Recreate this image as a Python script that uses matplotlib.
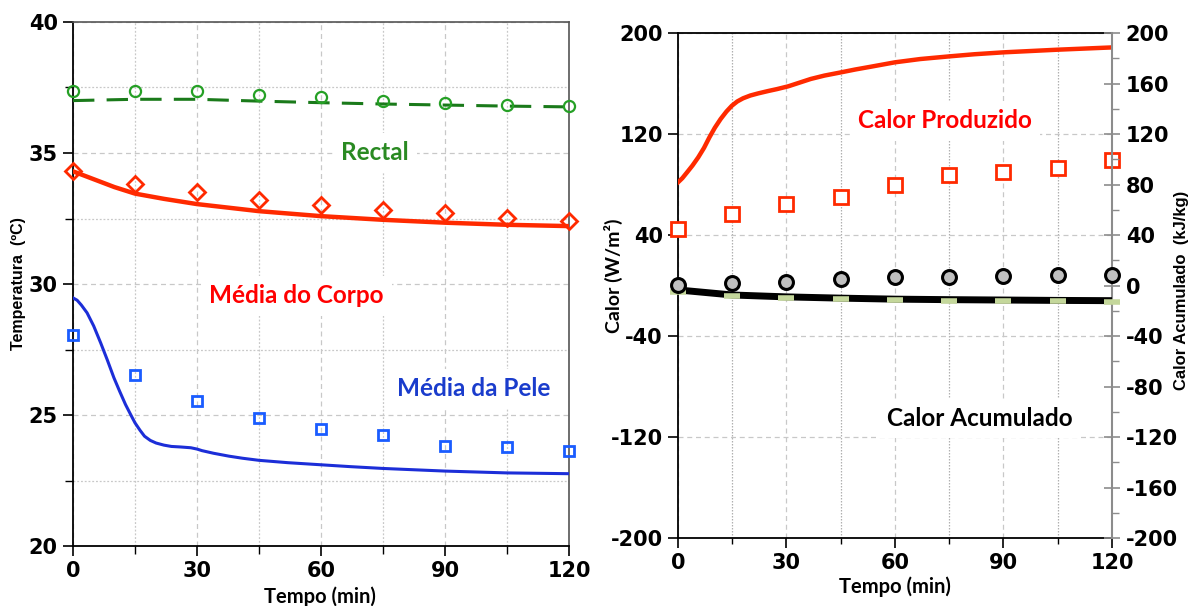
import matplotlib
matplotlib.use("Agg")
import matplotlib.pyplot as plt
from matplotlib.ticker import MultipleLocator

plt.rcParams["font.family"] = ["Liberation Sans", "DejaVu Sans"]
plt.rcParams["font.weight"] = "bold"
plt.rcParams["axes.unicode_minus"] = False

# ---------------- data ----------------
# measurement times (min)
t_meas = [0, 15, 30, 45, 60, 75, 90, 105, 120]

# measured temperatures (ºC)
rectal_meas = [37.35, 37.35, 37.35, 37.2, 37.12, 36.97, 36.92, 36.85, 36.78]
body_meas = [34.3, 33.8, 33.5, 33.2, 33.02, 32.82, 32.72, 32.52, 32.42]
skin_meas = [28.05, 26.52, 25.55, 24.88, 24.48, 24.22, 23.82, 23.77, 23.62]

# model temperatures (ºC)
t_rectal_model = [0, 15, 30, 45, 60, 75, 90, 105, 120]
rectal_model = [37.0, 37.05, 37.05, 36.98, 36.92, 36.87, 36.83, 36.79, 36.76]
t_body_model = [0, 5, 10, 15, 22, 30, 45, 60, 75, 90, 105, 120]
body_model = [34.3, 34.0, 33.7, 33.45, 33.25, 33.05, 32.78, 32.59, 32.45, 32.34, 32.26, 32.21]
t_skin_model = [0, 1, 2, 3.4, 5, 6.7, 8.3, 9.9, 11.3, 12.7, 14, 15, 16.2, 17.3, 18.7,
                20.1, 22, 23.8, 26, 28.5, 30, 31.2, 34, 37.7, 41, 45, 52, 60, 67, 75,
                90, 105, 120]
skin_model = [29.47, 29.38, 29.2, 28.9, 28.4, 27.75, 27.1, 26.42, 25.9, 25.4, 25.0,
              24.7, 24.42, 24.19, 24.03, 23.93, 23.85, 23.8, 23.78, 23.75, 23.7, 23.64,
              23.54, 23.43, 23.35, 23.27, 23.18, 23.1, 23.03, 22.96, 22.86, 22.79, 22.76]

# heat produced (W/m²)
prod_meas = [44.5, 56.6, 64.6, 69.9, 79.6, 87.5, 90.2, 92.8, 99.4]
t_prod_model = [0, 1.2, 2.5, 4, 5.6, 7.2, 8.7, 10.2, 11.8, 13.4, 14.9, 16.4, 18, 20,
                22.2, 25, 27.4, 30.5, 33.5, 36.7, 40.5, 45, 49, 53.3, 60, 67, 75, 82,
                90, 105, 120]
prod_model = [81.7, 85, 89.6, 95, 101.5, 109, 117.4, 125, 131.9, 137.8, 142.4, 145.8,
              148.3, 150.5, 152.2, 154.1, 155.6, 157.8, 160.6, 163.6, 166.3, 168.8,
              171.1, 173.3, 176.8, 179.4, 181.5, 183.2, 184.7, 186.8, 188.6]

# heat stored (kJ/kg)
stored_meas = [0.5, 2.0, 3.0, 5.5, 6.5, 7.0, 7.8, 8.0, 8.3]
stored_model = [-3.5, -7.5, -9.0, -10.0, -10.8, -11.2, -11.5, -11.8, -12.0]
stored_model_pts = [-5.5, -8.5, -10.0, -11.0, -11.8, -12.0, -12.2, -12.6, -12.8]

# ---------------- style ----------------
LABEL_FONT = dict(family=["Lato", "DejaVu Sans"], weight="bold")
TICK_FAMILY = ["DejaVu Sans"]
TICK_SIZE = 15

GREEN_M = "#25a025"
GREEN_L = "#1a7a1a"
RED = "#ff2a00"
BLUE_L = "#1c2ed8"
BLUE_M = "#1a5cff"
GRID = "#c8c8c8"

fig = plt.figure(figsize=(11.89, 6.06), dpi=100)


def tick_font(ax):
    for lab in ax.get_xticklabels() + ax.get_yticklabels():
        lab.set_fontfamily(TICK_FAMILY)
        lab.set_fontweight("bold")
        lab.set_fontsize(TICK_SIZE)


# ---------------- temperatures ----------------
ax1 = fig.add_axes([0.0614, 0.099, 0.4172, 0.8647])
ax1.set_xlim(0, 120)
ax1.set_ylim(20, 40)
ax1.xaxis.set_major_locator(MultipleLocator(30))
ax1.xaxis.set_minor_locator(MultipleLocator(15))
ax1.yaxis.set_major_locator(MultipleLocator(5))
ax1.yaxis.set_minor_locator(MultipleLocator(2.5))
ax1.set_axisbelow(True)
ax1.grid(which="major", color=GRID, ls=(0, (4, 3)), lw=0.9)
ax1.grid(which="minor", color=GRID, ls=(0, (1.5, 1.5)), lw=0.9)
ax1.tick_params(which="major", direction="out", length=7, width=1.2, pad=4)
ax1.tick_params(which="minor", direction="out", length=6, width=1.0)
for s in ("left", "bottom"):
    ax1.spines[s].set_linewidth(1.3)
    ax1.spines[s].set_color("black")
for s in ("top", "right"):
    ax1.spines[s].set_linewidth(1.2)
    ax1.spines[s].set_color("#555555")

ax1.plot(t_rectal_model, rectal_model, color=GREEN_L, lw=2.2, ls=(0, (7, 4)), zorder=3)
ax1.plot(t_body_model, body_model, color=RED, lw=3.2, zorder=3)
ax1.plot(t_skin_model, skin_model, color=BLUE_L, lw=2.2, zorder=3)

ax1.plot(t_meas, rectal_meas, ls="none", marker="o", ms=8, mfc="none", mec=GREEN_M,
         mew=1.6, zorder=4, clip_on=False)
ax1.plot(t_meas, body_meas, ls="none", marker="D", ms=8, mfc="none", mec=RED,
         mew=2.0, zorder=4, clip_on=False)
ax1.plot(t_meas, skin_meas, ls="none", marker="s", ms=7.5, mfc="none", mec=BLUE_M,
         mew=2.0, zorder=4, clip_on=False)

box = dict(facecolor="white", edgecolor="none", pad=6)
ax1.text(73, 35.0, "Rectal", color="#2a8a22", fontsize=17.5, ha="center", va="center",
         bbox=box, zorder=2.5, **LABEL_FONT)
ax1.text(54, 29.55, "Média do Corpo", color="#ff0000", fontsize=17.5, ha="center",
         va="center", bbox=box, zorder=2.5, **LABEL_FONT)
ax1.text(97, 26.0, "Média da Pele", color="#1a3ccc", fontsize=17.5, ha="center",
         va="center", bbox=box, zorder=2.5, **LABEL_FONT)

ax1.set_ylabel("Temperatura  (ºC)", fontsize=11.5, weight="bold", va="center", ha="center")
ax1.yaxis.set_label_coords(-0.11, 0.5)
ax1.set_xlabel("Tempo (min)", fontsize=14.5, va="center", ha="center", **LABEL_FONT)
ax1.xaxis.set_label_coords(0.498, -0.097)
tick_font(ax1)

# ---------------- heat ----------------
ax2 = fig.add_axes([0.5702, 0.1122, 0.365, 0.8333])
ax2.set_xlim(0, 120)
ax2.set_ylim(-200, 200)
ax2.xaxis.set_major_locator(MultipleLocator(30))
ax2.xaxis.set_minor_locator(MultipleLocator(15))
ax2.set_yticks([-200, -120, -40, 40, 120, 200])
ax2.set_axisbelow(True)
ax2.grid(which="major", color=GRID, ls=(0, (4, 3)), lw=0.9)
ax2.grid(which="minor", axis="x", color="#b0b0b0", ls=(0, (1.2, 1.2)), lw=0.9)
ax2.tick_params(which="major", direction="out", length=7, width=1.2, pad=4)
ax2.tick_params(which="minor", direction="out", length=4, width=1.0)
for s in ("left", "bottom", "top"):
    ax2.spines[s].set_linewidth(1.3)
    ax2.spines[s].set_color("black")
ax2.spines["right"].set_visible(False)

ax3 = ax2.twinx()
ax3.set_ylim(-200, 200)
ax3.yaxis.set_major_locator(MultipleLocator(40))
ax3.yaxis.set_minor_locator(MultipleLocator(20))
ax3.spines["right"].set_color("#8c8c8c")
ax3.spines["right"].set_linewidth(1.5)
for s in ("left", "top", "bottom"):
    ax3.spines[s].set_visible(False)
ax3.tick_params(axis="y", which="major", direction="inout", length=12, width=1.2,
                color="#8c8c8c", pad=4)
ax3.tick_params(axis="y", which="minor", direction="out", length=5, width=1.0,
                color="#8c8c8c")

ax2.plot(t_prod_model, prod_model, color=RED, lw=3.2, zorder=3)
ax2.plot(t_meas, prod_meas, ls="none", marker="s", ms=10, mfc="white", mec=RED,
         mew=2.0, zorder=4, clip_on=False)

ax3.plot(t_meas, stored_model, color="black", lw=5, zorder=3, solid_capstyle="butt")
ax3.plot(t_meas, stored_model_pts, ls="none", marker="_", ms=12, mew=4,
         color="#c4d79b", zorder=4, clip_on=False)
ax3.plot(t_meas, stored_meas, ls="none", marker="o", ms=10, mfc="#c0c0c0", mec="black",
         mew=2.2, zorder=5, clip_on=False)

ax2.text(73.8, 130.5, "Calor Produzido", color="#ff0000", fontsize=17.5, ha="center",
         va="center", bbox=box, zorder=2.5, **LABEL_FONT)
ax2.text(83.5, -105.5, "Calor Acumulado", color="black", fontsize=17.5, ha="center",
         va="center", bbox=box, zorder=2.5, **LABEL_FONT)

ax2.set_ylabel("Calor (W/m²)", fontsize=14, va="center", ha="center", **LABEL_FONT)
ax2.yaxis.set_label_coords(-0.148, 0.519)
ax2.set_xlabel("Tempo (min)", fontsize=14.5, va="center", ha="center", **LABEL_FONT)
ax2.xaxis.set_label_coords(0.5, -0.097)
ax3.set_ylabel("Calor Acumulado  (kJ/kg)", fontsize=12, weight="bold", rotation=90,
               va="center", ha="center")
ax3.yaxis.set_label_coords(1.16, 0.49)
tick_font(ax2)
tick_font(ax3)

fig.savefig("out.png", dpi=100)
